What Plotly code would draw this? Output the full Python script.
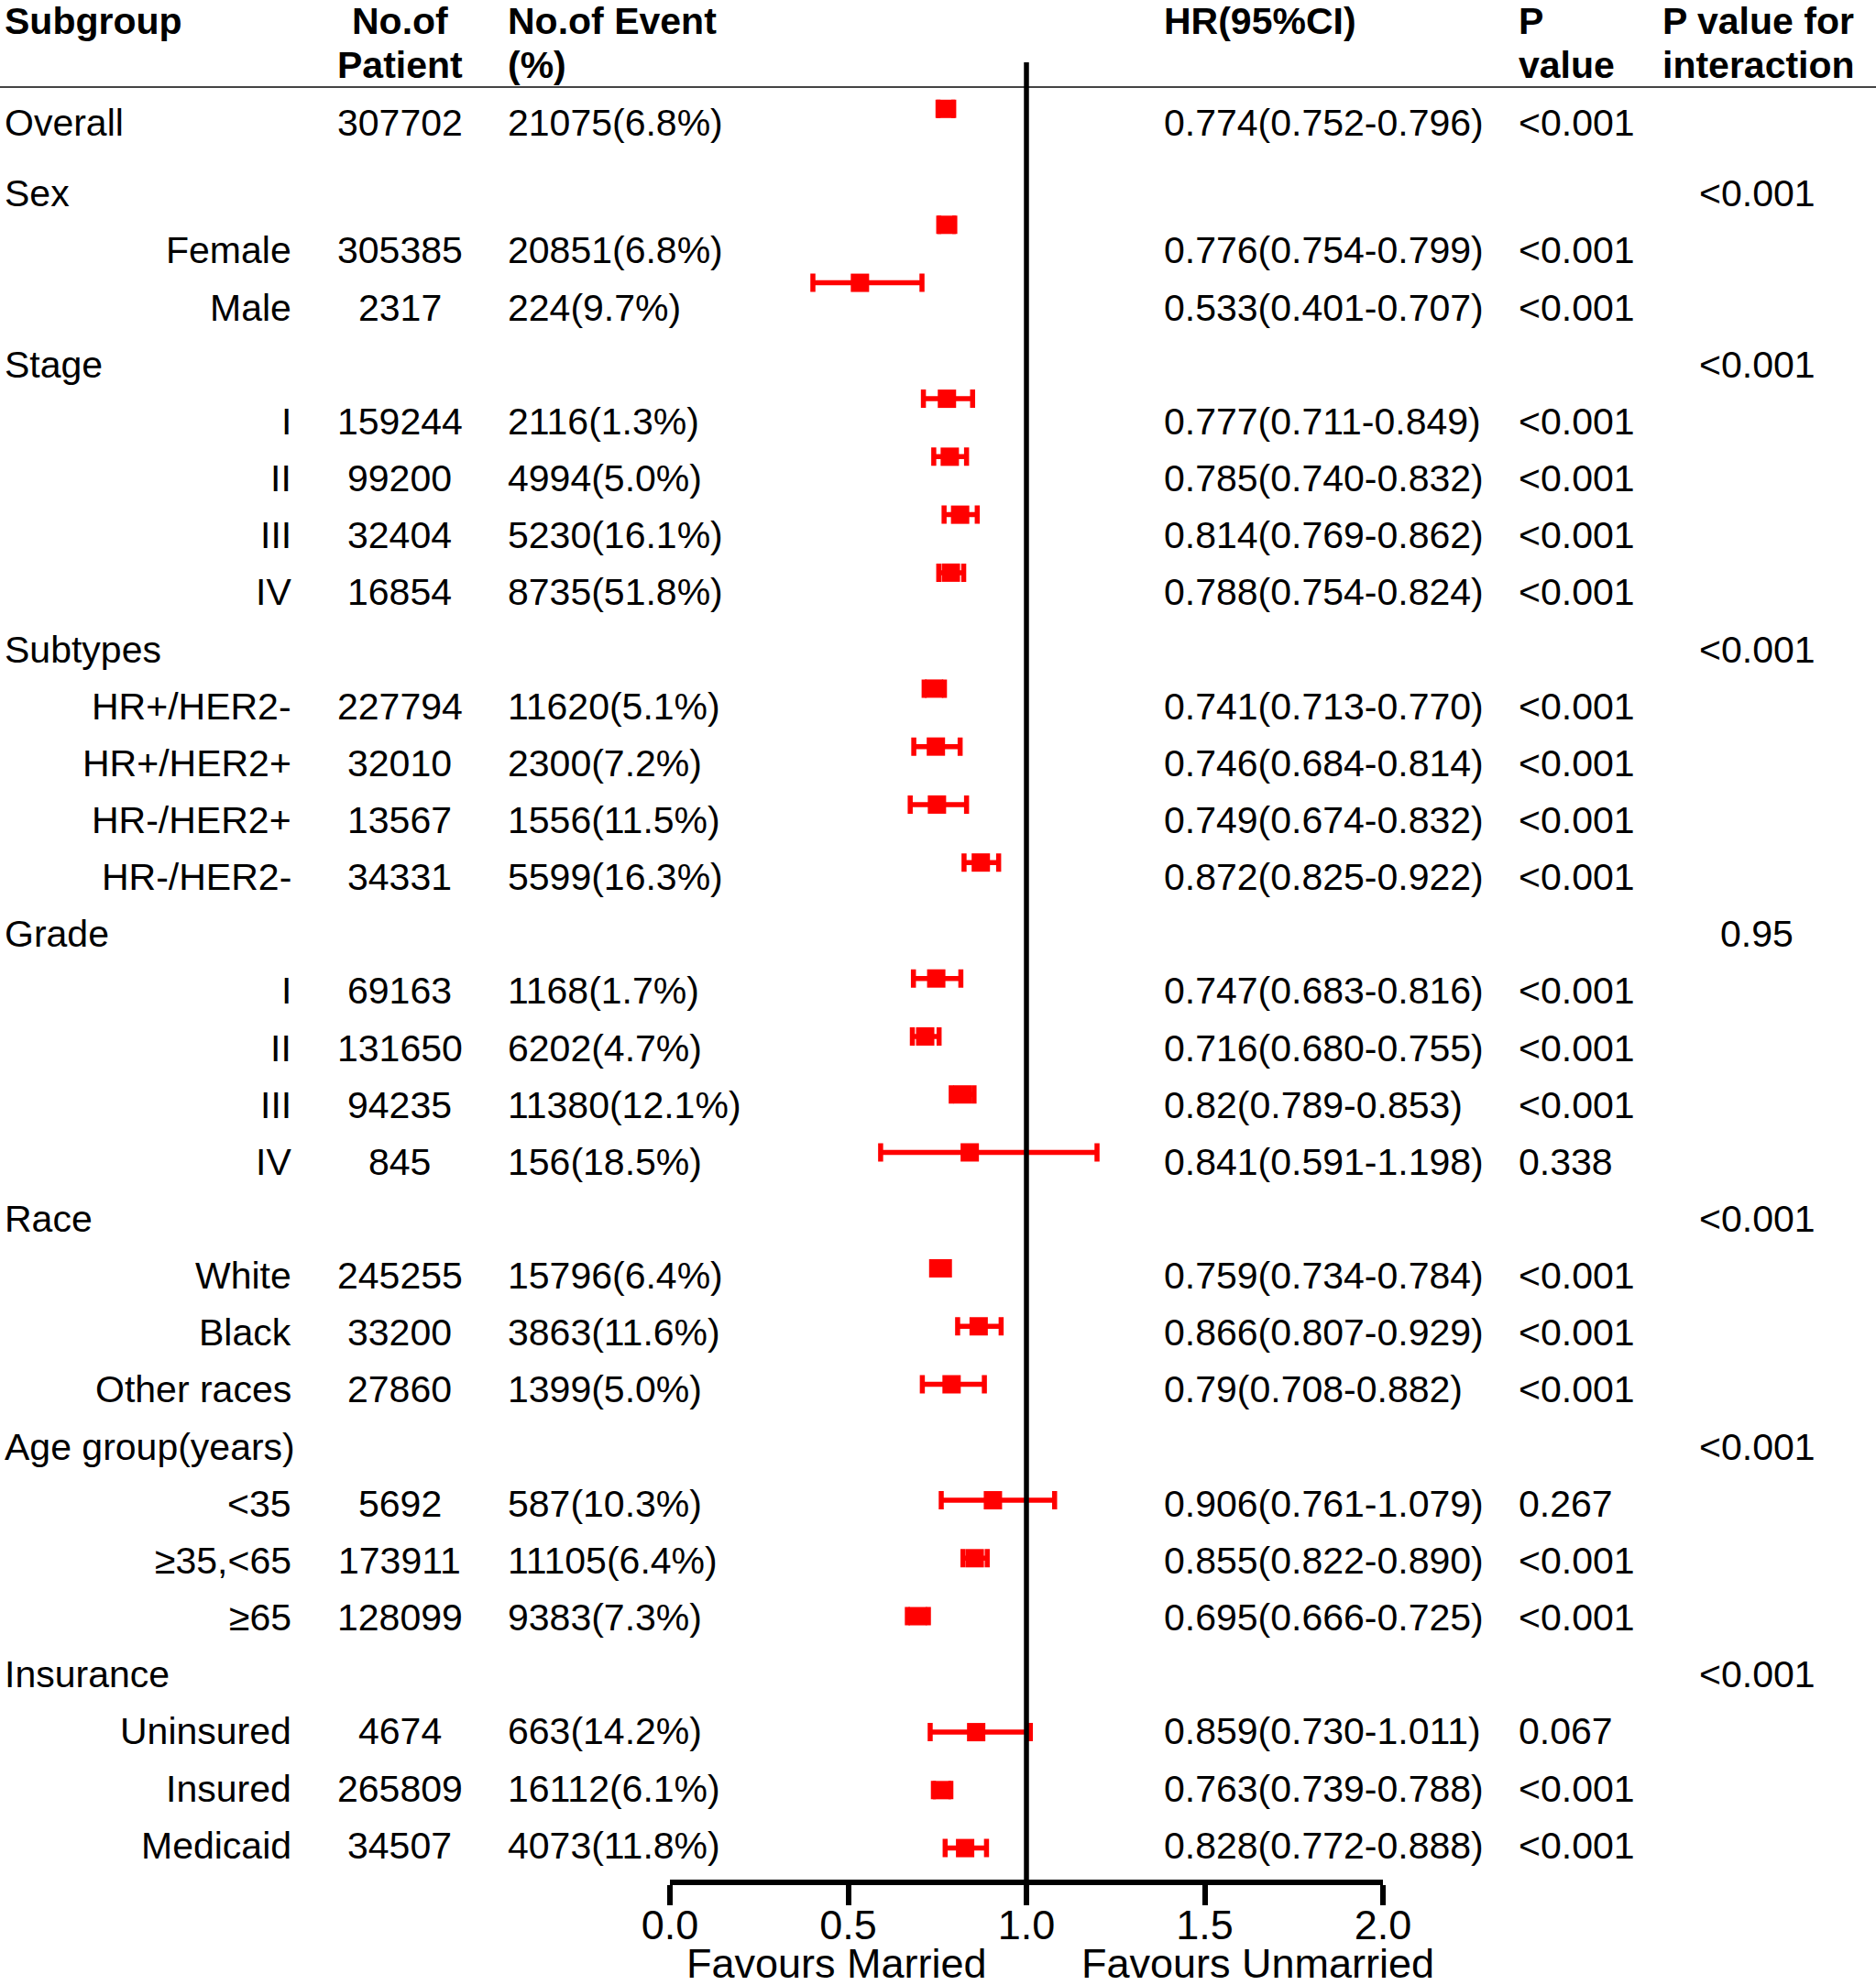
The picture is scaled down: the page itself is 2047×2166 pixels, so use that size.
import plotly.graph_objects as go

# ---- data ----
labels = ["Overall", "Sex", "Female", "Male", "Stage", "I", "II", "III", "IV",
          "Subtypes", "HR+/HER2-", "HR+/HER2+", "HR-/HER2+", "HR-/HER2-",
          "Grade", "I", "II", "III", "IV", "Race", "White", "Black", "Other races",
          "Age group(years)", "<35", "≥35,<65", "≥65",
          "Insurance", "Uninsured", "Insured", "Medicaid"]
is_group = [True, True, False, False, True, False, False, False, False,
            True, False, False, False, False,
            True, False, False, False, False, True, False, False, False,
            True, False, False, False,
            True, False, False, False]
patients = ["307702", "", "305385", "2317", "", "159244", "99200", "32404", "16854",
            "", "227794", "32010", "13567", "34331",
            "", "69163", "131650", "94235", "845", "", "245255", "33200", "27860",
            "", "5692", "173911", "128099",
            "", "4674", "265809", "34507"]
events = ["21075(6.8%)", "", "20851(6.8%)", "224(9.7%)", "", "2116(1.3%)", "4994(5.0%)",
          "5230(16.1%)", "8735(51.8%)",
          "", "11620(5.1%)", "2300(7.2%)", "1556(11.5%)", "5599(16.3%)",
          "", "1168(1.7%)", "6202(4.7%)", "11380(12.1%)", "156(18.5%)",
          "", "15796(6.4%)", "3863(11.6%)", "1399(5.0%)",
          "", "587(10.3%)", "11105(6.4%)", "9383(7.3%)",
          "", "663(14.2%)", "16112(6.1%)", "4073(11.8%)"]
hr = [0.774, None, 0.776, 0.533, None, 0.777, 0.785, 0.814, 0.788,
      None, 0.741, 0.746, 0.749, 0.872,
      None, 0.747, 0.716, 0.82, 0.841, None, 0.759, 0.866, 0.79,
      None, 0.906, 0.855, 0.695,
      None, 0.859, 0.763, 0.828]
ci_lo = [0.752, None, 0.754, 0.401, None, 0.711, 0.740, 0.769, 0.754,
         None, 0.713, 0.684, 0.674, 0.825,
         None, 0.683, 0.680, 0.789, 0.591, None, 0.734, 0.807, 0.708,
         None, 0.761, 0.822, 0.666,
         None, 0.730, 0.739, 0.772]
ci_hi = [0.796, None, 0.799, 0.707, None, 0.849, 0.832, 0.862, 0.824,
         None, 0.770, 0.814, 0.832, 0.922,
         None, 0.816, 0.755, 0.853, 1.198, None, 0.784, 0.929, 0.882,
         None, 1.079, 0.890, 0.725,
         None, 1.011, 0.788, 0.888]
ci_text = ["0.774(0.752-0.796)", "", "0.776(0.754-0.799)", "0.533(0.401-0.707)", "",
           "0.777(0.711-0.849)", "0.785(0.740-0.832)", "0.814(0.769-0.862)", "0.788(0.754-0.824)",
           "", "0.741(0.713-0.770)", "0.746(0.684-0.814)", "0.749(0.674-0.832)", "0.872(0.825-0.922)",
           "", "0.747(0.683-0.816)", "0.716(0.680-0.755)", "0.82(0.789-0.853)", "0.841(0.591-1.198)",
           "", "0.759(0.734-0.784)", "0.866(0.807-0.929)", "0.79(0.708-0.882)",
           "", "0.906(0.761-1.079)", "0.855(0.822-0.890)", "0.695(0.666-0.725)",
           "", "0.859(0.730-1.011)", "0.763(0.739-0.788)", "0.828(0.772-0.888)"]
p_value = ["<0.001", "", "<0.001", "<0.001", "", "<0.001", "<0.001", "<0.001", "<0.001",
           "", "<0.001", "<0.001", "<0.001", "<0.001",
           "", "<0.001", "<0.001", "<0.001", "0.338", "", "<0.001", "<0.001", "<0.001",
           "", "0.267", "<0.001", "<0.001",
           "", "0.067", "<0.001", "<0.001"]
p_inter = ["", "<0.001", "", "", "<0.001", "", "", "", "",
           "<0.001", "", "", "", "",
           "0.95", "", "", "", "", "<0.001", "", "", "",
           "<0.001", "", "", "",
           "<0.001", "", "", ""]
tick_vals = [0.0, 0.5, 1.0, 1.5, 2.0]
tick_text = ["0.0", "0.5", "1.0", "1.5", "2.0"]

W, H = 2047, 2166
FONT = "Arial, Liberation Sans, sans-serif"
n = len(labels)

# row positions (pixels from top)
text_y = [134 if r == 0 else 211.3 + 62.15 * (r - 1) for r in range(n)]
mark_y = [118.8 + 63.26 * r for r in range(n)]

idx = [i for i in range(n) if hr[i] is not None]

fig = go.Figure()
fig.add_trace(go.Scatter(
    x=[hr[i] for i in idx],
    y=[mark_y[i] for i in idx],
    mode="markers",
    marker=dict(symbol="square", size=20, color="#ff0000", line=dict(width=0)),
    error_x=dict(type="data", symmetric=False,
                 array=[ci_hi[i] - hr[i] for i in idx],
                 arrayminus=[hr[i] - ci_lo[i] for i in idx],
                 color="#ff0000", thickness=5.5, width=10),
    hoverinfo="skip", showlegend=False,
))

ann = []


def txt(x, y, s, anchor="left", size=41, bold=False):
    ann.append(dict(x=x / W, y=y, xref="paper", yref="y", text=s, showarrow=False,
                    xanchor=anchor, yanchor="middle",
                    font=dict(family=FONT, size=size, color="black",
                              weight="bold" if bold else "normal")))


# header
txt(3, 23, "Subgroup", bold=True)
txt(436, 23, "No.of", "center", bold=True)
txt(436, 71, "Patient", "center", bold=True)
txt(552, 23, "No.of Event", bold=True)
txt(552, 71, "(%)", bold=True)
txt(1268, 23, "HR(95%CI)", bold=True)
txt(1655, 23, "P", bold=True)
txt(1655, 71, "value", bold=True)
txt(1812, 23, "P value for", bold=True)
txt(1812, 71, "interaction", bold=True)

for r in range(n):
    y = text_y[r]
    if is_group[r]:
        txt(3, y, labels[r])
    else:
        txt(320, y, labels[r], "right")
    if patients[r]:
        txt(436, y, patients[r], "center")
    if events[r]:
        txt(552, y, events[r])
    if ci_text[r]:
        txt(1268, y, ci_text[r])
    if p_value[r]:
        txt(1655, y, p_value[r])
    if p_inter[r]:
        txt(1917, y, p_inter[r], "center")

txt(913, 2142, "Favours Married", "center", size=45)
txt(1372, 2142, "Favours Unmarried", "center", size=45)

shapes = [
    dict(type="line", xref="paper", yref="y", x0=0, x1=1, y0=95, y1=95,
         line=dict(color="#444444", width=2)),
    dict(type="line", xref="x", yref="y", x0=1, x1=1, y0=68, y1=2054,
         line=dict(color="black", width=5.5)),
]

fig.update_layout(
    width=W, height=H,
    margin=dict(l=0, r=0, t=0, b=0, pad=0, autoexpand=False),
    paper_bgcolor="white", plot_bgcolor="white",
    annotations=ann, shapes=shapes,
    xaxis=dict(domain=[731 / W, 1509 / W], range=[0, 2], anchor="free",
               position=1 - 2054 / H, automargin=False,
               showline=True, linecolor="black", linewidth=6,
               ticks="outside", ticklen=22, tickwidth=6, tickcolor="black",
               tickvals=tick_vals, ticktext=tick_text, ticklabelstandoff=-17,
               tickfont=dict(family=FONT, size=45, color="black"),
               showgrid=False, zeroline=False),
    yaxis=dict(domain=[0, 1], range=[H, 0], visible=False, showgrid=False,
               automargin=False),
)

fig.write_html("out.html", config={"displayModeBar": False},
               post_script="document.body.style.margin='0';"
                           "document.body.style.overflow='hidden';")
